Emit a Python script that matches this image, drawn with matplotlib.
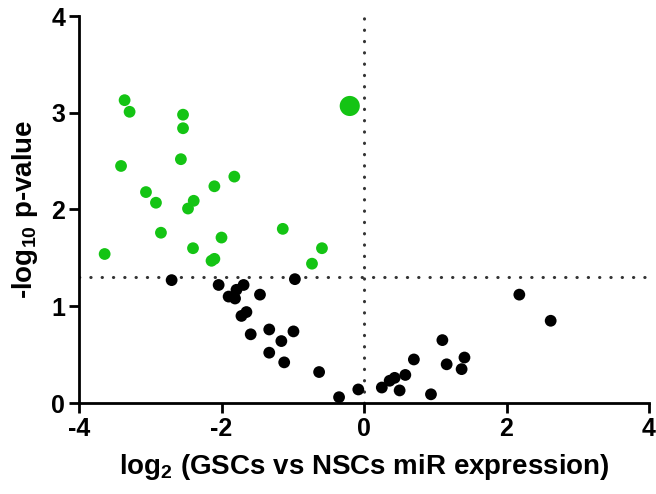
import matplotlib
matplotlib.use("Agg")
import matplotlib.pyplot as plt

plt.rcParams['font.family'] = ['Liberation Sans', 'DejaVu Sans']
plt.rcParams['font.weight'] = 'bold'
plt.rcParams['mathtext.fontset'] = 'custom'
plt.rcParams['mathtext.rm'] = 'Liberation Sans:bold'
plt.rcParams['mathtext.default'] = 'rm'
plt.rcParams['axes.unicode_minus'] = False

# significant miRs (green)
green_x = [-3.36, -3.29, -2.54, -2.54, -2.57, -3.41, -1.82, -2.10, -3.06, -2.92, -2.39,
           -2.47, -2.85, -2.00, -3.64, -2.40, -2.14, -2.10, -1.14, -0.59, -0.73]
green_y = [3.13, 3.01, 2.98, 2.84, 2.52, 2.45, 2.34, 2.24, 2.18, 2.07, 2.09,
           2.01, 1.76, 1.71, 1.54, 1.60, 1.47, 1.49, 1.80, 1.60, 1.44]

# highlighted miR (big green dot)
big_x = [-0.20]
big_y = [3.07]

# non-significant miRs (black)
black_x = [-2.70, -0.97, -2.04, -1.69, -1.79, -1.90, -1.81, -1.46, -1.65, -1.72, -1.33,
           -0.99, -1.59, -1.16, -1.33, -1.12, -0.63, -0.35, -0.08, 0.25, 0.36, 0.43,
           0.50, 0.58, 0.70, 0.94, 1.10, 1.16, 1.41, 1.37, 2.18, 2.62]
black_y = [1.27, 1.28, 1.22, 1.22, 1.17, 1.10, 1.08, 1.12, 0.94, 0.90, 0.76,
           0.74, 0.71, 0.64, 0.52, 0.42, 0.32, 0.06, 0.14, 0.16, 0.23, 0.26,
           0.13, 0.29, 0.45, 0.09, 0.65, 0.40, 0.47, 0.35, 1.12, 0.85]

threshold = 1.3

fig = plt.figure(figsize=(6.56, 4.94), dpi=100)
ax = fig.add_axes([79 / 656, 1 - 403 / 494, 570 / 656, 387 / 494])

# dotted guide lines
ax.axhline(threshold, color='#333333', lw=2.2, linestyle=(0, (0.1, 3.6)),
           dash_capstyle='round', zorder=1)
ax.plot([0, 0], [0, 4], color='#333333', lw=2.2, linestyle=(0, (0.1, 3.6)),
        dash_capstyle='round', zorder=1, clip_on=False)

ax.scatter(black_x, black_y, s=72, color='black', edgecolors='none', zorder=3)
ax.scatter(green_x, green_y, s=72, color='#14c414', edgecolors='none', zorder=3)
ax.scatter(big_x, big_y, s=210, color='#14c414', edgecolors='none', zorder=3)

ax.set_xlim(-4, 4)
ax.set_ylim(0, 4)
ax.set_xticks([-4, -2, 0, 2, 4])
ax.set_yticks([0, 1, 2, 3, 4])

for side in ['top', 'right']:
    ax.spines[side].set_visible(False)
for side in ['left', 'bottom']:
    ax.spines[side].set_linewidth(2)
ax.tick_params(width=2, length=7, labelsize=18, pad=3)

ax.set_xlabel(r'log$_2$ (GSCs vs NSCs miR expression)', fontsize=20, fontweight='bold', labelpad=8)
ax.set_ylabel(r'-log$_{10}$ p-value', fontsize=20, fontweight='bold', labelpad=8)

plt.savefig('out.png', dpi=100)
